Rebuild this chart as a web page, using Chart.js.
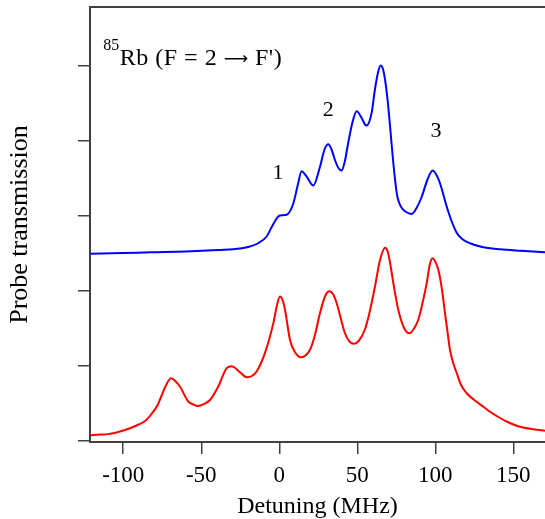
<!DOCTYPE html>
<html>
<head>
<meta charset="utf-8">
<script src="https://cdn.jsdelivr.net/npm/chart.js@4/dist/chart.umd.min.js"></script>
<style>
  html, body { margin: 0; padding: 0; background: #fff; }
  canvas { display: block; }
</style>
</head>
<body>
<canvas id="spectrum" width="545" height="519"></canvas>
<script>
// upper trace (blue): detuning in MHz, transmission in arb. units
const blueDetuning = [-121, -100, -81.8, -60, -39.1, -25, -20, -13.5, -8.1, -5, -2, 0.4, 4.7, 9.0, 12,
  14.3, 17.5, 21.8, 26.1, 29, 31.4, 33.5, 35.7, 38, 40, 42, 44.2, 47, 49.6, 52.8, 55, 56, 59.2, 61.3,
  63.2, 65, 66.5, 67.8, 69, 70, 71, 72, 73, 74.2, 75.5, 77, 78.5, 81, 84.9, 88, 91.3, 95, 98.3, 100.5, 103,
  107.3, 110, 113.7, 117, 122.2, 130, 141.5, 155, 170.3];
const blueSignal = [2.49, 2.50, 2.51, 2.52, 2.54, 2.56, 2.58, 2.63, 2.72, 2.84, 2.95, 3.00, 3.01, 3.16, 3.42,
  3.59, 3.52, 3.40, 3.65, 3.88, 3.95, 3.88, 3.74, 3.63, 3.60, 3.72, 3.97, 4.25, 4.39, 4.30, 4.21, 4.20, 4.37, 4.68,
  4.90, 5.00, 4.95, 4.81, 4.62, 4.42, 4.19, 3.95, 3.72, 3.48, 3.27, 3.16, 3.10, 3.05, 3.02, 3.10, 3.25, 3.48, 3.60, 3.55, 3.43,
  3.12, 2.95, 2.77, 2.69, 2.63, 2.58, 2.55, 2.53, 2.51];

// lower trace (red)
const redDetuning = [-121, -115, -109.6, -98.9, -90.4, -86, -82, -78, -75.4, -72.5, -69.4, -66.5, -63.7,
  -58.3, -55, -52.3, -48, -44.4, -39.1, -33.7, -30.5, -25.2, -20.9, -17.5, -14.5, -9.2, -3.8, -1.5, 0.4,
  2, 3.7, 6.9, 10, 13.9, 19.7, 22.9, 26.1, 29.5, 32.1, 34.5, 36.8, 42.1, 45, 47.9, 51, 54.9, 58, 61.3,
  64.5, 67.8, 69.5, 71, 73.5, 76.3, 80, 83.3, 86, 89.1, 92, 94.5, 96.5, 98.3, 100, 101.9, 104, 106.2,
  108, 109.4, 111.5, 113.7, 116.5, 120.1, 125, 130.8, 136, 141.5, 146, 152.2, 157, 162.8, 170.3];
const redSignal = [0.07, 0.08, 0.085, 0.14, 0.21, 0.26, 0.35, 0.47, 0.60, 0.74, 0.83, 0.79, 0.72,
  0.52, 0.48, 0.46, 0.49, 0.54, 0.72, 0.965, 0.99, 0.91, 0.845, 0.86, 0.92, 1.165, 1.565, 1.80, 1.92,
  1.88, 1.74, 1.34, 1.18, 1.11, 1.21, 1.41, 1.70, 1.93, 1.99, 1.95, 1.83, 1.43, 1.32, 1.29, 1.33, 1.48, 1.72, 2.05,
  2.40, 2.57, 2.52, 2.37, 2.05, 1.74, 1.50, 1.43, 1.48, 1.61, 1.85, 2.10, 2.35, 2.43, 2.38, 2.28, 2.05, 1.70,
  1.42, 1.21, 1.03, 0.90, 0.74, 0.63, 0.54, 0.45, 0.37, 0.30, 0.25, 0.196, 0.17, 0.15, 0.13];

const xTicks = [-100, -50, 0, 50, 100, 150];
const yTicks = [0, 1, 2, 3, 4, 5];

// peak numbers and the panel label (positions in data units)
const peakNames = ['1', '2', '3'];
const peakNameX = [-0.8, 31.4, 100.4];
const peakNameY = [3.56, 4.41, 4.12];
const panelLabel = { sup: '85', before: 'Rb (F = 2 ', arrow: '\u27F6', after: ' F\')', x: -112.8, y: 5.01 };

const axisColor = '#404040';
const serif = '"Liberation Serif", "DejaVu Serif", serif';

const toPoints = (xs, ys) => xs.map((x, i) => ({ x: x, y: ys[i] }));

const frameAndText = {
  id: 'frameAndText',
  afterDraw(chart) {
    const { ctx, chartArea, scales } = chart;
    ctx.save();
    // top frame line
    ctx.strokeStyle = axisColor;
    ctx.lineWidth = 2;
    ctx.beginPath();
    ctx.moveTo(chartArea.left - 1, chartArea.top);
    ctx.lineTo(chartArea.right, chartArea.top);
    ctx.stroke();

    ctx.fillStyle = '#000';
    ctx.textAlign = 'center';
    ctx.textBaseline = 'middle';
    ctx.font = '22px ' + serif;
    peakNames.forEach((t, i) => {
      ctx.fillText(t, scales.x.getPixelForValue(peakNameX[i]), scales.y.getPixelForValue(peakNameY[i]));
    });

    let px = scales.x.getPixelForValue(panelLabel.x);
    const py = scales.y.getPixelForValue(panelLabel.y);
    ctx.textAlign = 'left';
    ctx.textBaseline = 'alphabetic';
    ctx.font = '16px ' + serif;
    ctx.fillText(panelLabel.sup, px, py - 15);
    px += ctx.measureText(panelLabel.sup).width + 0.5;
    ctx.letterSpacing = '0.5px';
    ctx.font = '24px ' + serif;
    ctx.fillText(panelLabel.before, px, py);
    px += ctx.measureText(panelLabel.before).width;
    ctx.font = '17px "DejaVu Sans"';
    ctx.fillText(panelLabel.arrow, px, py - 1);
    px += ctx.measureText(panelLabel.arrow).width;
    ctx.font = '24px ' + serif;
    ctx.fillText(panelLabel.after, px, py);
    ctx.restore();
  }
};

new Chart(document.getElementById('spectrum'), {
  type: 'line',
  data: {
    datasets: [
      { label: 'upper', data: toPoints(blueDetuning, blueSignal), borderColor: '#0000ff' },
      { label: 'lower', data: toPoints(redDetuning, redSignal), borderColor: '#ff0000' }
    ]
  },
  options: {
    responsive: false,
    devicePixelRatio: 1,
    animation: false,
    events: [],
    layout: { padding: { top: 7, left: 0, right: 0, bottom: 0 } },
    elements: {
      point: { radius: 0 },
      line: { borderWidth: 2, cubicInterpolationMode: 'monotone', fill: false }
    },
    plugins: { legend: { display: false }, tooltip: { enabled: false } },
    scales: {
      x: {
        type: 'linear',
        min: -121.3,
        max: 170.3,
        afterFit(scale) { scale.height = 77; },
        afterBuildTicks(scale) { scale.ticks = xTicks.map(v => ({ value: v })); },
        border: { display: true, color: axisColor, width: 2 },
        grid: { drawOnChartArea: false, drawTicks: true, tickLength: 12, color: axisColor, lineWidth: 1.5 },
        ticks: { color: '#000', font: { family: serif, size: 23 }, padding: 8, maxRotation: 0,
          callback: v => String(v) },
        title: { display: true, text: 'Detuning (MHz)', color: '#000',
          font: { family: serif, size: 24, lineHeight: 1 }, padding: 0 }
      },
      y: {
        type: 'linear',
        min: -0.02,
        max: 5.78,
        afterFit(scale) { scale.width = 90; },
        afterBuildTicks(scale) { scale.ticks = yTicks.map(v => ({ value: v })); },
        border: { display: true, color: axisColor, width: 2 },
        grid: { drawOnChartArea: false, drawTicks: true, tickLength: 12, color: axisColor, lineWidth: 1.5 },
        ticks: { display: false },
        title: { display: true, text: 'Probe transmission', color: '#000',
          font: { family: serif, size: 26, lineHeight: 1 }, padding: { top: 7, bottom: 0 } }
      }
    }
  },
  plugins: [frameAndText]
});
</script>
</body>
</html>
